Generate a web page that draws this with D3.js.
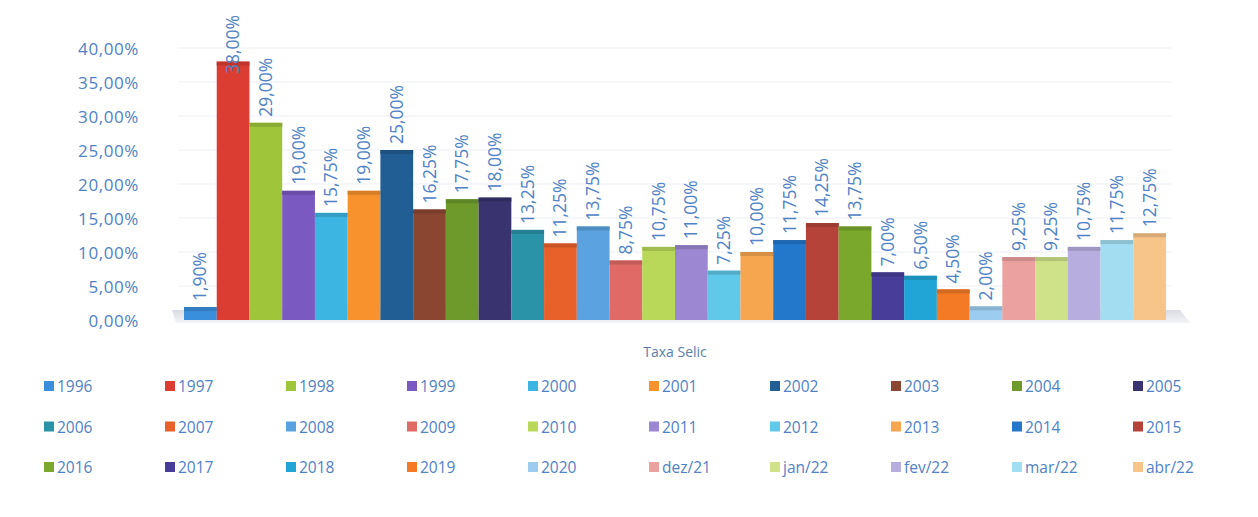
<!DOCTYPE html>
<html>
<head>
<meta charset="utf-8">
<script src="https://cdn.jsdelivr.net/npm/d3@7"></script>
<style>
  body { margin: 0; background: #fff; }
  svg { display: block; }
  text { font-family: "Open Sans", sans-serif; fill: #4f82c6; }
</style>
</head>
<body>
<svg id="chart" width="1258" height="517"></svg>
<script>
// categories (one series per bar) and the Selic values
var categories = ["1996", "1997", "1998", "1999", "2000", "2001", "2002", "2003", "2004", "2005",
    "2006", "2007", "2008", "2009", "2010", "2011", "2012", "2013", "2014", "2015",
    "2016", "2017", "2018", "2019", "2020", "dez/21", "jan/22", "fev/22", "mar/22", "abr/22"];
var values = [1.90, 38.00, 29.00, 19.00, 15.75, 19.00, 25.00, 16.25, 17.75, 18.00,
    13.25, 11.25, 13.75, 8.75, 10.75, 11.00, 7.25, 10.00, 11.75, 14.25,
    13.75, 7.00, 6.50, 4.50, 2.00, 9.25, 9.25, 10.75, 11.75, 12.75];
var colors = ["#3a8fdc", "#dc3d33", "#9fc53a", "#7a59c0", "#3cb5e2", "#f7922c", "#215e94", "#8b4632", "#6e9a2c", "#39336f",
    "#2b93a8", "#e8602a", "#5aa3e0", "#e06a66", "#b9d85a", "#9c88d2", "#60c8e8", "#f7a650", "#2478cc", "#b5433a",
    "#7aa82c", "#483d98", "#20a5d6", "#f57a26", "#9ccdf0", "#eba1a0", "#cfe28a", "#b8addf", "#a3ddf1", "#f7c48a"];
var yTicks = [0, 5, 10, 15, 20, 25, 30, 35, 40];
var axisTitle = "Taxa Selic";

var svg = d3.select("#chart");
var fmt = function (v) { return d3.format(".2f")(v).replace(".", ",") + "%"; };

var x = d3.scaleBand().domain(categories).range([184, 1166]).padding(0);
var y = d3.scaleLinear().domain([0, 40]).range([320, 48]);

// faint back wall gridlines
svg.append("g").selectAll("line")
    .data(yTicks.slice(1))
    .enter().append("line")
    .attr("x1", 178).attr("x2", 1172)
    .attr("y1", function (d) { return y(d); })
    .attr("y2", function (d) { return y(d); })
    .style("stroke", "#eef0f6")
    .style("stroke-width", 1.2);

// floor shadow
var defs = svg.append("defs");
var grad = defs.append("linearGradient").attr("id", "floor").attr("x1", 0).attr("x2", 0).attr("y1", 0).attr("y2", 1);
grad.append("stop").attr("offset", "0%").attr("stop-color", "#d9dce3");
grad.append("stop").attr("offset", "100%").attr("stop-color", "#f3f4f7");
svg.append("polygon")
    .attr("points", [[172, y(0) - 10], [1180, y(0) - 10], [1190, y(0) + 3], [176, y(0) + 3]].join(" "))
    .style("fill", "url(#floor)");

// y axis (labels only)
var yAxis = d3.axisLeft(y).tickValues(yTicks).tickSize(0).tickPadding(0).tickFormat(fmt);
var gy = svg.append("g").attr("transform", "translate(139,1)").call(yAxis);
gy.select(".domain").remove();
gy.selectAll("text")
    .style("font-size", "17px")
    .style("fill", "#4f82c6")
    .attr("letter-spacing", "0.6px");

// bars: front face plus a darker top strip
var bars = svg.append("g").selectAll("g")
    .data(values)
    .enter().append("g");

bars.append("rect")
    .attr("x", function (d, i) { return x(categories[i]); })
    .attr("y", function (d) { return y(d); })
    .attr("width", x.bandwidth())
    .attr("height", function (d) { return y(0) - y(d); })
    .style("fill", function (d, i) { return colors[i]; });

bars.append("rect")
    .attr("x", function (d, i) { return x(categories[i]); })
    .attr("y", function (d) { return y(d); })
    .attr("width", x.bandwidth())
    .attr("height", 4)
    .style("fill", function (d, i) { return d3.color(colors[i]).darker(0.4); });

// rotated value labels
bars.append("text")
    .attr("transform", function (d, i) {
        var cx = x(categories[i]) + x.bandwidth() / 2 + 6;
        var start = Math.max(y(d) - 6, 8 + fmt(d).length * 11);
        return "translate(" + cx + "," + start + ") rotate(-90)";
    })
    .style("font-size", "17.5px")
    .style("fill", "#4f82c6")
    .text(function (d) { return fmt(d); });

// axis title
svg.append("text")
    .attr("x", 675).attr("y", 357)
    .attr("text-anchor", "middle")
    .style("font-size", "14px")
    .style("fill", "#5a7fae")
    .text(axisTitle);

// legend: 3 rows of 10
var legend = svg.append("g").selectAll("g")
    .data(categories)
    .enter().append("g")
    .attr("transform", function (d, i) {
        var col = i % 10, row = Math.floor(i / 10);
        return "translate(" + (44 + col * 121) + "," + (386 + row * 40.5) + ")";
    });

legend.append("rect")
    .attr("x", 0).attr("y", -5)
    .attr("width", 10).attr("height", 10)
    .style("fill", function (d, i) { return colors[i]; });

legend.append("text")
    .attr("x", 13).attr("y", 6)
    .style("font-size", "15.5px")
    .style("fill", "#4f82c6")
    .text(function (d) { return d; });
</script>
</body>
</html>
